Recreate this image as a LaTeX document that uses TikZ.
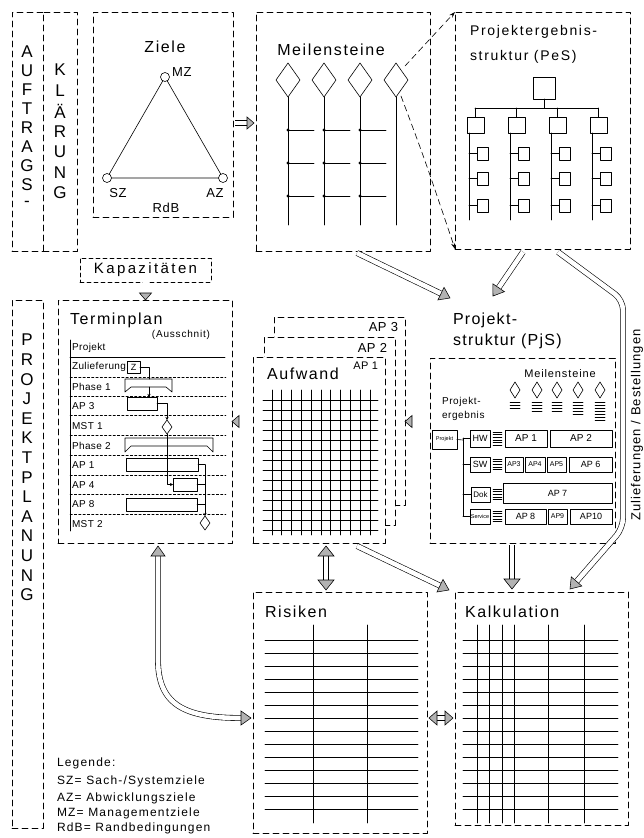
\documentclass[tikz,border=0pt]{standalone}
\usepackage{fontspec}
\setmainfont{Liberation Sans}
\usetikzlibrary{arrows.meta,calc,shapes.geometric}
\newcommand{\myfs}[1]{\fontsize{#1}{#1}\selectfont}
\newcommand{\myls}[1]{\addfontfeature{LetterSpace=#1}}
\newcommand{\ghd}[4]{%
  \coordinate (hc) at ($(#2)!#3pt!(#1)$);
  \filldraw[fill=gray!60,draw=black,line width=0.55pt,line join=miter] (#2) -- ($(hc)!#4pt!90:(#2)$) -- ($(hc)!#4pt!-90:(#2)$) -- cycle;}
\newcommand{\fatA}[4]{%
  \coordinate (se) at ($(#2)!#3pt!(#1)$);
  \draw[fat] (#1) -- (se);
  \ghd{#1}{#2}{#3}{#4}}
\newcommand{\fatB}[4]{%
  \coordinate (se) at ($(#2)!#3pt!(#1)$);
  \coordinate (ss) at ($(#1)!#3pt!(#2)$);
  \draw[fat] (ss) -- (se);
  \ghd{#1}{#2}{#3}{#4}\ghd{#2}{#1}{#3}{#4}}
\begin{document}
\begin{tikzpicture}[x=1pt,y=-1pt,line cap=round,line join=round,line width=0.6pt,
  every node/.style={inner sep=0pt,outer sep=0pt},
  dbox/.style={draw,line width=0.7pt,dash pattern=on 6pt off 4pt,fill=white,anchor=north west},
  sbox/.style={draw,line width=0.6pt,anchor=north west},
  sep/.style={line width=0.4pt,dash pattern=on 2.5pt off 1.8pt},
  fat/.style={double,double distance=4.6pt,line width=0.6pt,line cap=butt},
  title/.style={font=\myfs{16}\myls{10}},
  lab/.style={font=\myfs{10}\myls{4}},
  vl/.style={font=\myfs{17}},
  mst/.style={draw,diamond,minimum width=10pt,minimum height=14pt,line width=0.6pt},
  ptxt/.style={font=\myfs{9}},
  legs/.style={font=\myfs{12}\myls{10},anchor=west},
]
\useasboundingbox (0,0) rectangle (643,838);

% ---------- Auftragsklaerung columns
\node[dbox,minimum width=31pt,minimum height=239pt] (aufA) at (12,12) {};
\node[dbox,minimum width=34pt,minimum height=239pt] (aufB) at (43,12) {};
\foreach \c [count=\i from 0] in {A,U,F,T,R,A,G,S,-}
  \node[vl] (au\i) at (27,52+19*\i) {\c};
\foreach \c [count=\i from 0] in {K,L,Ä,R,U,N,G}
  \node[vl] (kl\i) at (60,70+20.5*\i) {\c};

% ---------- Ziele
\node[dbox,minimum width=140pt,minimum height=205pt] (ziele) at (93,12) {};
\node[title] (zielet) at (165,47) {Ziele};
\node[circle,draw,minimum size=9pt] (mz) at (165,77) {};
\node[circle,draw,minimum size=9pt] (sz) at (107,178) {};
\node[circle,draw,minimum size=9pt] (az) at (223,178) {};
\draw (mz) -- (sz) -- (az) -- (mz);
\node[font=\myfs{13}\myls{6},anchor=west] (mzt) at (172,72) {MZ};
\node[font=\myfs{13}\myls{6}] (szt) at (118,193) {SZ};
\node[font=\myfs{13}\myls{6}] (azt) at (215,193) {AZ};
\node[font=\myfs{13}\myls{6}] (rdb) at (166,208) {RdB};

% ---------- Meilensteine
\node[dbox,minimum width=174pt,minimum height=239pt] (meil) at (256,12) {};
\node[title] (meilt) at (331,50) {Meilensteine};
\foreach \x in {288,324,360,396} {
  \draw (\x,63) -- (\x+12,80) -- (\x,97) -- (\x-12,80) -- cycle;
  \draw (\x,97) -- (\x,225);
}
\foreach \x in {288,324,360} \foreach \y in {130,163,196} {
  \fill (\x,\y) circle (1.6pt);
  \draw (\x,\y) -- (\x+26,\y);
}
\coordinate (zm1) at (235,123);
\coordinate (zm2) at (254,123);
\fatA{zm1}{zm2}{7}{6}

% ---------- PeS
\node[dbox,minimum width=175pt,minimum height=237pt] (pes) at (455,12) {};
\node[font=\myfs{14}\myls{12},anchor=west] (pest1) at (470,32) {Projektergebnis-};
\node[font=\myfs{14}\myls{12},anchor=west] (pest2) at (470,57) {struktur (PeS)};
\node[sbox,minimum width=22pt,minimum height=22pt] (root) at (533,77) {};
\draw (root.south) -- (544,108);
\draw (475,108) -- (598,108);
\foreach \k in {0,1,2,3} {
  \node[sbox,minimum width=17pt,minimum height=16pt] (l2\k) at (467+41*\k,117) {};
  \draw (475.5+41*\k,108) -- (l2\k.north);
  \draw (469+41*\k,133) -- (469+41*\k,220);
  \foreach \y [count=\j] in {147,172,199} {
    \node[sbox,minimum width=11pt,minimum height=13pt] (c\k\j) at (477+41*\k,\y) {};
    \draw (469+41*\k,\y+6.5) -- (c\k\j.west);
  }
}
\coordinate (dm1) at (405,66);
\coordinate (dm2) at (401,96);
\draw[line width=0.6pt,dash pattern=on 6pt off 4pt,-{Stealth[length=6pt,width=4pt]}] (dm1) -- (pes.north west);
\draw[line width=0.6pt,dash pattern=on 6pt off 4pt,-{Stealth[length=6pt,width=4pt]}] (dm2) .. controls (425,160) .. (pes.south west);

% ---------- Kapazitaeten
\node[draw,line width=0.7pt,dash pattern=on 4pt off 3pt,minimum width=131pt,minimum height=24pt,font=\myfs{15}\myls{16}] (kap) at (145.5,270) {Kapazitäten};

% ---------- Projektplanung column
\node[dbox,minimum width=31pt,minimum height=528pt] (ppcol) at (12,300) {};
\foreach \c [count=\i from 0] in {P,R,O,J,E,K,T,P,L,A,N,U,N,G}
  \node[vl] (pp\i) at (27,340+19.6*\i) {\c};

% ---------- Terminplan
\node[dbox,minimum width=174pt,minimum height=243pt] (term) at (58,300) {};
\coordinate (k1) at (kap.south);
\coordinate (k2) at (kap.south |- term.north);
\fatA{k1}{k2}{7}{6}
\node[title,anchor=west] (termt) at (70,320) {Terminplan};
\node[font=\myfs{10}\myls{8}] (aussch) at (181,335) {(Ausschnit)};
\draw (70,340) -- (70,531);
\draw (70,357) -- (225,357);
\foreach \y in {377,396,415,435,455,475,494,514} \draw[sep] (70,\y) -- (226,\y);
\foreach \t/\y [count=\i] in {Projekt/348,Zulieferung/367,Phase 1/387,AP 3/406,MST 1/426,Phase 2/446,AP 1/465,AP 4/485,AP 8/504,MST 2/524}
  \node[lab,anchor=west] (row\i) at (72,\y) {\t};
\node[draw,line width=0.7pt,minimum width=13pt,minimum height=12pt,font=\myfs{9}] (zbox) at (133.5,367) {Z};
\draw (125,379) -- (172,379) -- (172,392) -- (166,387) -- (131,387) -- (125,392) -- cycle;
\draw (125,438) -- (213,438) -- (213,452) -- (207,446) -- (131,446) -- (125,452) -- cycle;
\node[sbox,minimum width=30pt,minimum height=13pt] (ap3t) at (127,397) {};
\node[sbox,minimum width=72pt,minimum height=13pt] (ap1t) at (126,458) {};
\node[sbox,minimum width=24pt,minimum height=13pt] (ap4t) at (173,478) {};
\node[sbox,minimum width=71pt,minimum height=13pt] (ap8t) at (126,498) {};
\node[mst] (mst1) at (167,427) {};
\node[mst] (mst2) at (205,523) {};
\draw (zbox.east) -| (149,379);
\draw[line width=0.4pt,-{Stealth[length=3pt,width=3pt]}] (149,387) -- (ap3t.north -| 149,397);
\draw[line width=0.5pt,-{Stealth[length=3pt,width=3pt]}] (ap3t.east) -| (mst1.north);
\draw[line width=0.4pt,-{Stealth[length=3pt,width=3pt]}] (mst1.south) |- (ap4t.west);
\draw[line width=0.5pt] (ap1t.east) -- (205,464.5);
\draw[line width=0.5pt] (ap4t.east) -- (205,484.5);
\draw[line width=0.5pt] (ap8t.east) -- (205,504.5);
\draw[line width=0.5pt,-{Stealth[length=3pt,width=3pt]}] (205,464.5) -- (mst2.north);

% ---------- AP stack / Aufwand
\node[dbox,minimum width=131pt,minimum height=188pt] (ap3b) at (274,317) {};
\node[dbox,minimum width=131pt,minimum height=188pt] (ap2b) at (264,337) {};
\node[dbox,minimum width=132pt,minimum height=186pt] (aufw) at (253,357) {};
\node[font=\myfs{13}\myls{4},anchor=east] (ap3l) at (398,327) {AP 3};
\node[font=\myfs{13}\myls{4},anchor=east] (ap2l) at (387,348) {AP 2};
\node[font=\myfs{11}\myls{4},anchor=east] (ap1l) at (378,366) {AP 1};
\node[title,anchor=west] (aufwt) at (267,374) {Aufwand};
\foreach \i in {0,...,10} \draw[line width=0.7pt] (272+9.8*\i,390) -- (272+9.8*\i,535);
\foreach \j in {0,...,13} \draw[line width=0.7pt] (263,400+10*\j) -- (378,400+10*\j);
\coordinate (at1) at (aufw.west |- term.east);
\coordinate (at2) at (term.east);
\fatA{at1}{at2}{7}{6}

% ---------- PjS
\node[font=\myfs{16}\myls{8},anchor=west] (pjst1) at (453,320) {Projekt-};
\node[font=\myfs{16}\myls{8},anchor=west] (pjst2) at (453,341) {struktur (PjS)};
\node[dbox,minimum width=185pt,minimum height=185pt] (pjs) at (430,358) {};
\coordinate (pa1) at (pjs.west |- term.east);
\coordinate (pa2) at (ap3b.east |- term.east);
\fatA{pa1}{pa2}{7}{6}
\node[font=\myfs{11}\myls{8}] (pjsm) at (560,374) {Meilensteine};
\foreach \x/\n in {515/3,537/4,557/4,578/5,600/7} {
  \draw (\x,382) -- (\x+5,390) -- (\x,398) -- (\x-5,390) -- cycle;
  \foreach \k in {1,...,\n} \draw[line width=0.5pt] (\x-5,399+3*\k) -- (\x+5,399+3*\k);
}
\node[font=\myfs{10}\myls{6},anchor=west] (pe1) at (442,402) {Projekt-};
\node[font=\myfs{10}\myls{6},anchor=west] (pe2) at (442,416) {ergebnis};
\node[sbox,minimum width=25pt,minimum height=19pt] (pjb) at (432,430) {};
\node[font=\myfs{5.5}] (pjbt) at (pjb.center) {Projekt};
\node[sbox,minimum width=20pt,minimum height=17pt] (hw) at (470,430) {};
\node[sbox,minimum width=20pt,minimum height=15pt] (sw) at (470,457) {};
\node[sbox,minimum width=19pt,minimum height=15pt] (dok) at (471,487) {};
\node[sbox,minimum width=20pt,minimum height=15pt] (serv) at (470,509) {};
\node[ptxt] at (hw.center) (hwt) {HW};
\node[ptxt] at (sw.center) (swt) {SW};
\node[font=\myfs{8}] at (dok.center) (dokt) {Dok};
\node[font=\myfs{5.5}] at (serv.center) (servt) {Service};
\draw (pjb.east) -- (463,440);
\draw (463,438) -- (463,516.5);
\foreach \b in {hw,sw,dok,serv} \draw (463,0 |- \b.west) -- (\b.west);
\foreach \y/\n in {432/5,459/4,489/4,511/4}
  \foreach \k in {0,...,\n} \draw[line width=0.45pt] (493,\y+2.6*\k) -- (502,\y+2.6*\k);
\node[sbox,minimum width=42pt,minimum height=17pt] (p1) at (505,430) {};
\node[sbox,minimum width=62pt,minimum height=17pt] (p2) at (550,430) {};
\node[sbox,minimum width=18pt,minimum height=15pt] (p3) at (505,457) {};
\node[sbox,minimum width=20pt,minimum height=15pt] (p4) at (525,457) {};
\node[sbox,minimum width=19pt,minimum height=15pt] (p5) at (547,457) {};
\node[sbox,minimum width=43pt,minimum height=15pt] (p6) at (569,457) {};
\node[sbox,minimum width=109pt,minimum height=20pt] (p7) at (503,483) {};
\node[sbox,minimum width=41pt,minimum height=15pt] (p8) at (505,509) {};
\node[sbox,minimum width=19pt,minimum height=15pt] (p9) at (548,509) {};
\node[sbox,minimum width=42pt,minimum height=15pt] (p10) at (570,509) {};
\node[font=\myfs{10}] (p1t) at (p1.center) {AP 1};
\node[font=\myfs{10}] (p2t) at (p2.center) {AP 2};
\node[font=\myfs{7}] (p3t) at (p3.center) {AP3};
\node[font=\myfs{7}] (p4t) at (p4.center) {AP4};
\node[font=\myfs{7}] (p5t) at (p5.center) {AP5};
\node[font=\myfs{9}] (p6t) at (p6.center) {AP 6};
\node[font=\myfs{9}] (p7t) at (p7.center) {AP 7};
\node[font=\myfs{9}] (p8t) at (p8.center) {AP 8};
\node[font=\myfs{7}] (p9t) at (p9.center) {AP9};
\node[font=\myfs{9}] (p10t) at (p10.center) {AP10};

% ---------- Risiken
\node[dbox,minimum width=174pt,minimum height=241pt] (ris) at (253,592) {};
\node[title,anchor=west] (rist) at (265,612) {Risiken};
\foreach \j in {0,...,13} \draw (265,640+13*\j) -- (418,640+13*\j);
\foreach \x in {313,367} \draw (\x,625) -- (\x,823);

% ---------- Kalkulation
\node[dbox,minimum width=173pt,minimum height=233pt] (kalk) at (455,592) {};
\node[title,anchor=west] (kalkt) at (465,612) {Kalkulation};
\foreach \j in {0,...,13} \draw (463,640+13*\j) -- (618,640+13*\j);
\foreach \x in {477,489,502,514,548,584} \draw (\x,625) -- (\x,823);

% ---------- big arrows
\coordinate (m1) at (357,253);
\coordinate (m2) at (450,298);
\fatA{m1}{m2}{10}{7}
\coordinate (pe1s) at (523,252);
\coordinate (pe2s) at (493,296);
\fatA{pe1s}{pe2s}{10}{7}
\coordinate (zs) at (558,252);
\coordinate (zc) at (623,528);
\coordinate (ze) at (570,589);
\coordinate (zse) at ($(ze)!10pt!(zc)$);
\draw[fat,rounded corners=10pt] (zs) -- (623,300) -- (zc) -- (zse);
\ghd{zc}{ze}{10}{7}
\node[rotate=90,font=\myfs{13}\myls{8}] (zul) at (637,425) {Zulieferungen / Bestellungen};
\coordinate (pk1) at (512,545);
\coordinate (pk2) at (512,589);
\fatA{pk1}{pk2}{10}{8}
\coordinate (ar1) at (326,546);
\coordinate (ar2) at (326,590);
\fatB{ar1}{ar2}{10}{8}
\coordinate (ak1) at (357,546);
\coordinate (ak2) at (449,590);
\fatA{ak1}{ak2}{10}{7}
\coordinate (tr1) at (158,546);
\coordinate (tr2) at (251,718);
\coordinate (tr1s) at (158,556);
\coordinate (tr2s) at (241,718);
\draw[fat] (tr1s) -- (158,660) .. controls (158,705) and (185,718) .. (tr2s);
\ghd{tr1s}{tr1}{10}{7}
\ghd{tr2s}{tr2}{10}{7}
\coordinate (rk1) at (429,718);
\coordinate (rk2) at (453,718);
\fatB{rk1}{rk2}{8}{7}

% ---------- Legende
\node[legs] (leg1) at (57,763) {Legende:};
\node[legs] (leg2) at (57,781) {SZ= Sach-/Systemziele};
\node[legs] (leg3) at (57,798) {AZ= Abwicklungsziele};
\node[legs] (leg4) at (57,813) {MZ= Managementziele};
\node[legs] (leg5) at (57,828) {RdB= Randbedingungen};
\end{tikzpicture}
\end{document}
